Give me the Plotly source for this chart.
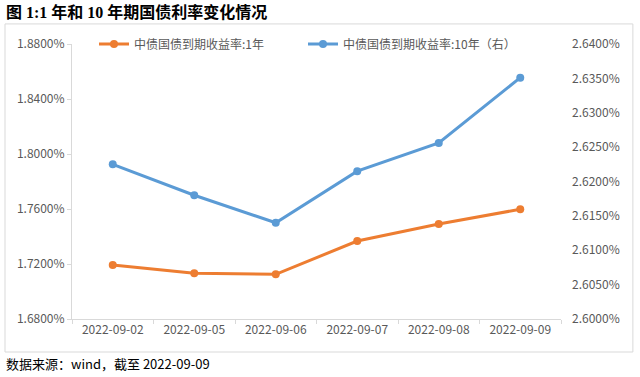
import plotly.graph_objects as go

dates = ["2022-09-02", "2022-09-05", "2022-09-06", "2022-09-07", "2022-09-08", "2022-09-09"]
y1 = [1.7193, 1.7133, 1.7125, 1.7367, 1.7491, 1.7598]
y10 = [2.6225, 2.6180, 2.6140, 2.6215, 2.6256, 2.6351]
left_ticks = [1.68, 1.72, 1.76, 1.80, 1.84, 1.88]
right_ticks = [2.600, 2.605, 2.610, 2.615, 2.620, 2.625, 2.630, 2.635, 2.640]

ORANGE = "#ED7D31"
BLUE = "#5B9BD5"
TICKFONT = dict(family="Noto Sans CJK SC, DejaVu Sans", size=12, color="#595959")

fig = go.Figure()
fig.add_trace(go.Scatter(
    x=dates, y=y1, name="中债国债到期收益率:1年", mode="lines+markers",
    line=dict(color=ORANGE, width=3), marker=dict(size=8, color=ORANGE),
    yaxis="y"))
fig.add_trace(go.Scatter(
    x=dates, y=y10, name="中债国债到期收益率:10年（右）", mode="lines+markers",
    line=dict(color=BLUE, width=3), marker=dict(size=8, color=BLUE),
    yaxis="y2"))

fig.update_layout(
    width=640, height=377,
    margin=dict(l=72, r=79, t=44, b=58),
    paper_bgcolor="white", plot_bgcolor="white",
    showlegend=True,
    legend=dict(orientation="h", x=0.045, y=1.0, xanchor="left", yanchor="middle",
                font=dict(family="Noto Sans CJK SC", size=12, color="#595959"),
                bgcolor="rgba(0,0,0,0)", itemwidth=30, entrywidth=164,
                entrywidthmode="pixels", tracegroupgap=0),
    xaxis=dict(type="category", showgrid=False, showline=True, linecolor="#D9D9D9",
               linewidth=1, ticks="outside", tickson="boundaries", ticklen=4,
               tickcolor="#D9D9D9", tickfont=TICKFONT, range=[-0.5, 5.5]),
    yaxis=dict(range=[1.68, 1.88], tickvals=left_ticks,
               ticktext=[f"{v:.4f}%" for v in left_ticks],
               showgrid=False, showline=True, linecolor="#D9D9D9", linewidth=1,
               ticks="outside", ticklen=4, tickcolor="#D9D9D9", tickfont=TICKFONT,
               zeroline=False),
    yaxis2=dict(range=[2.60, 2.64], tickvals=right_ticks,
                ticktext=[f"{v:.4f}%" for v in right_ticks],
                overlaying="y", side="right", showgrid=False, showline=False,
                ticks="", tickfont=TICKFONT, zeroline=False, ticklabelstandoff=10),
    shapes=[dict(type="rect", xref="paper", yref="paper",
                 x0=-0.137, x1=1.147, y0=-0.12, y1=1.073,
                 line=dict(color="#D9D9D9", width=1), fillcolor="rgba(0,0,0,0)",
                 layer="below")],
    annotations=[
        dict(text="<b>图 1:1 年和 10 年期国债利率变化情况</b>", xref="paper", yref="paper",
             x=-0.14, y=1.116, xanchor="left", yanchor="middle", showarrow=False,
             font=dict(family="Liberation Serif, Noto Sans CJK SC", size=16, color="#000000")),
        dict(text="数据来源：wind，截至 2022-09-09", xref="paper", yref="paper",
             x=-0.14, y=-0.16, xanchor="left", yanchor="middle", showarrow=False,
             font=dict(family="Noto Sans CJK SC", size=13, color="#000000")),
    ],
)

fig.write_html("out.html", config={"displayModeBar": False},
               post_script="document.body.style.margin='0';")
